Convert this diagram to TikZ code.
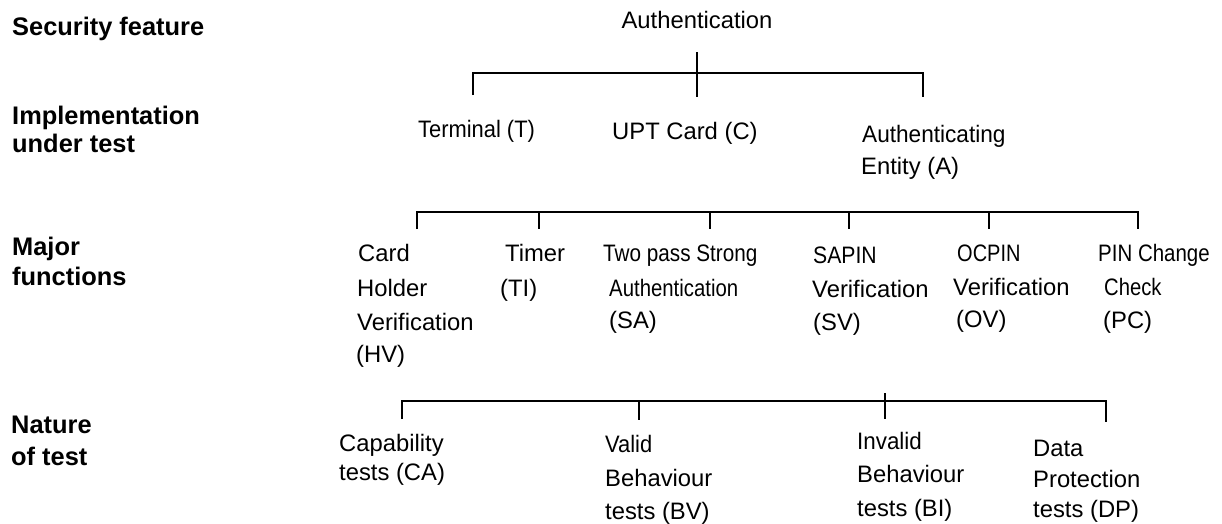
\documentclass[tikz,border=0pt]{standalone}
\usepackage{fontspec}
\usepackage{graphicx}
\setmainfont{Liberation Sans}
\newcommand{\hsqz}[2]{\scalebox{#1}[1]{#2}}
\begin{document}
\begin{tikzpicture}[x=1pt,y=-1pt,
  lbl/.style={anchor=base west,inner sep=0pt,font=\fontsize{25.4}{30}\selectfont\bfseries},
  txt/.style={anchor=base west,inner sep=0pt,font=\fontsize{23.8}{30}\selectfont},
  br/.style={line width=1.6pt,line cap=butt}]
\useasboundingbox (0,0) rectangle (1222,523);

% left labels
\node[lbl] (sf) at (12,35) {Security feature};
\node[lbl] (iu1) at (12,124) {Implementation};
\node[lbl] (iu2) at (12,152) {under test};
\node[lbl] (mf1) at (12,255) {Major};
\node[lbl] (mf2) at (12,285) {functions};
\node[lbl] (nt1) at (11,433) {Nature};
\node[lbl] (nt2) at (11,465) {of test};

% level 1
\node[txt,anchor=base] (auth) at (697,28) {Authentication};

% level 2
\node[txt] (term) at (418,137) {\hsqz{0.92}{Terminal (T)}};
\node[txt] (upt) at (612,139) {UPT Card (C)};
\node[txt] (ae1) at (862,142) {\hsqz{0.95}{Authenticating}};
\node[txt] (ae2) at (861,174) {Entity (A)};

% level 3
\node[txt] (hv1) at (358,261) {Card};
\node[txt] (hv2) at (357,296) {Holder};
\node[txt] (hv3) at (357,330) {Verification};
\node[txt] (hv4) at (356,362) {(HV)};
\node[txt] (ti1) at (505,261) {Timer};
\node[txt] (ti2) at (500,296) {(TI)};
\node[txt] (sa1) at (603,261) {\hsqz{0.87}{Two pass Strong}};
\node[txt] (sa2) at (609,296) {\hsqz{0.855}{Authentication}};
\node[txt] (sa3) at (609,328) {(SA)};
\node[txt] (sv1) at (813,263) {\hsqz{0.89}{SAPIN}};
\node[txt] (sv2) at (812,297) {Verification};
\node[txt] (sv3) at (813,330) {(SV)};
\node[txt] (ov1) at (957,261) {\hsqz{0.84}{OCPIN}};
\node[txt] (ov2) at (953,295) {Verification};
\node[txt] (ov3) at (956,327) {(OV)};
\node[txt] (pc1) at (1098,261) {\hsqz{0.86}{PIN Change}};
\node[txt] (pc2) at (1104,295) {\hsqz{0.85}{Check}};
\node[txt] (pc3) at (1103,328) {(PC)};

% level 4
\node[txt] (ca1) at (339,451) {Capability};
\node[txt] (ca2) at (339,480) {tests (CA)};
\node[txt] (bv1) at (605,452) {\hsqz{0.92}{Valid}};
\node[txt] (bv2) at (605,486) {Behaviour};
\node[txt] (bv3) at (605,519) {tests (BV)};
\node[txt] (bi1) at (857,449) {\hsqz{0.94}{Invalid}};
\node[txt] (bi2) at (857,482) {Behaviour};
\node[txt] (bi3) at (857,516) {tests (BI)};
\node[txt] (dp1) at (1033,456) {Data};
\node[txt] (dp2) at (1033,487) {Protection};
\node[txt] (dp3) at (1033,517) {tests (DP)};

% bracket 1
\coordinate (a0) at (697,52);
\coordinate (a1) at (697,97);
\coordinate (aL) at (473,73);
\coordinate (aR) at (923,73);
\coordinate (tT) at (473,95);
\coordinate (tA) at (923,97);
\draw[br] (a0) -- (a1);
\draw[br] (tT) -- (aL) -- (aR) -- (tA);

% bracket 2
\foreach \n/\x in {1/417,2/539,3/710,4/849,5/989,6/1138}{
  \coordinate (h\n) at (\x,212);
  \coordinate (e\n) at (\x,229);
}
\draw[br] (e1) -- (h1) -- (h6) -- (e6);
\foreach \n in {2,3,4,5}{\draw[br] (h\n) -- (e\n);}

% bracket 3
\coordinate (k1) at (402,401);
\coordinate (k2) at (639,401);
\coordinate (k3t) at (885,393);
\coordinate (k4) at (1106,401);
\coordinate (m1) at (402,419);
\coordinate (m2) at (639,420);
\coordinate (m3) at (885,419);
\coordinate (m4) at (1106,422);
\draw[br] (m1) -- (k1) -- (k4) -- (m4);
\draw[br] (k2) -- (m2);
\draw[br] (k3t) -- (m3);
\end{tikzpicture}
\end{document}
